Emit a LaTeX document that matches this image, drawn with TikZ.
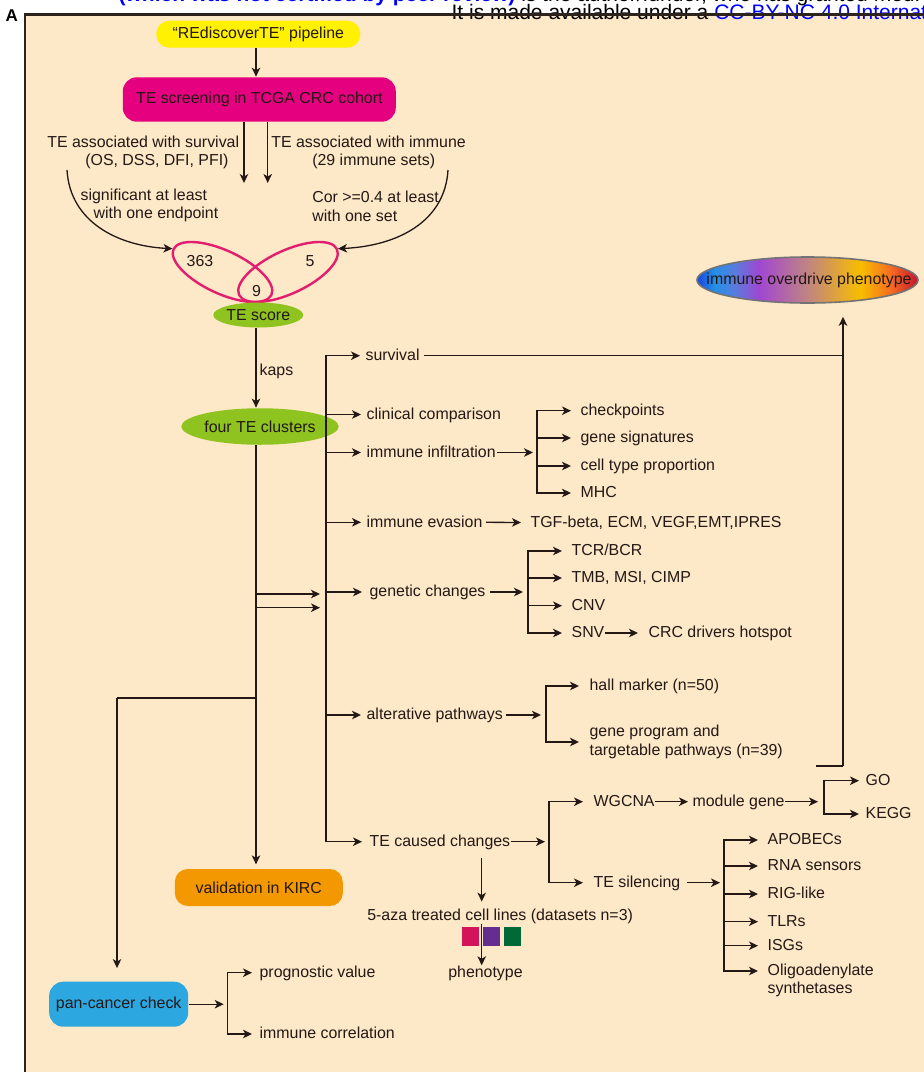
\documentclass[tikz,border=0pt]{standalone}
\usepackage{fontspec}
\setmainfont{Liberation Sans}
\usetikzlibrary{arrows.meta,shapes.geometric}

\definecolor{peach}{RGB}{253,232,200}
\definecolor{ink}{RGB}{35,24,21}
\definecolor{framecol}{RGB}{45,35,30}
\definecolor{pipeyellow}{RGB}{255,241,0}
\definecolor{screenmag}{RGB}{228,0,127}
\definecolor{leaf}{RGB}{143,195,31}
\definecolor{kirc}{RGB}{243,152,0}
\definecolor{pancan}{RGB}{45,167,224}
\definecolor{vennpink}{RGB}{228,30,110}
\definecolor{sqred}{RGB}{212,20,90}
\definecolor{sqpurple}{RGB}{102,45,145}
\definecolor{sqgreen}{RGB}{0,104,55}
\definecolor{hdrblue}{RGB}{0,0,255}
% colours of the phenotype oval, left to right
\definecolor{odA}{RGB}{25,70,225}
\definecolor{odB}{RGB}{35,145,230}
\definecolor{odC}{RGB}{95,120,220}
\definecolor{odD}{RGB}{160,70,210}
\definecolor{odE}{RGB}{192,132,130}
\definecolor{odF}{RGB}{248,190,0}
\definecolor{odG}{RGB}{245,105,35}
\definecolor{odH}{RGB}{195,20,45}
\pgfdeclarehorizontalshading{overdrive}{100bp}{color(0bp)=(odA); color(25bp)=(odA); color(29bp)=(odB); color(34bp)=(odC); color(39bp)=(odD); color(50bp)=(odE); color(62bp)=(odF); color(69bp)=(odG); color(75bp)=(odH); color(100bp)=(odH)}

\begin{document}
\begin{tikzpicture}[x=1pt, y=-1pt, font=\fontsize{15.9}{18.5}\selectfont, color=ink, line width=1.3pt]

	% ---------- Helper styles ----------
	\tikzset{
		box/.style={rounded corners=13pt, inner sep=0pt},
		oval/.style={ellipse, fill=leaf, inner sep=0pt},
		venn/.style={ellipse, draw=vennpink, line width=2.4pt, minimum width=108pt, minimum height=43pt, inner sep=0pt},
		lbl/.style={anchor=west, inner sep=0pt, text height=11.5pt, text depth=2pt},
		lbl2/.style={anchor=west, inner sep=0pt, align=left},
		arr/.style={-{Stealth[length=9pt,width=8.5pt,inset=2.5pt]}},
		spine/.style={line cap=rect},
		heavy/.style={line width=2.6pt},
		sq/.style={minimum width=17pt, minimum height=19pt, inner sep=0pt}
	}

	% ---------- Canvas ----------
	\useasboundingbox (0,0) rectangle (924,1072);
	\clip (0,0) rectangle (924,1072);
	\fill[white] (0,0) rectangle (924,1072);
	\fill[peach] (25,14.5) rectangle (924,1072);

	% ---------- Header (cut off) ----------
	\node[anchor=base west, inner sep=0pt, text=black, font=\fontsize{21}{21}\selectfont] (hdr1) at (118,1)
		{\textcolor{hdrblue}{\bfseries (which was not certified by peer review)} is the author/funder, who has granted medRxiv a license to display the preprint in perpetuity.};
	\node[anchor=base west, inner sep=0pt, text=black, font=\fontsize{21}{21}\selectfont] (hdr2) at (451,19.5)
		{It is made available under a \textcolor{hdrblue}{CC-BY-NC 4.0 International license}.};
	\draw[framecol, line width=2.4pt] (25,1072) -- (25,14.5) -- (924,14.5);
	\node[anchor=base west, inner sep=0pt, text=black, font=\bfseries\fontsize{17}{17}\selectfont] (panA) at (5,21) {A};

	% ---------- Screening ----------
	\coordinate (axis) at (256,0);
	\node[box, fill=pipeyellow, minimum width=204pt, minimum height=27pt] (pipe) at (258.3,34.2) {``REdiscoverTE'' pipeline};
	\node[box, fill=screenmag, minimum width=273pt, minimum height=44.4pt, rounded corners=14pt] (scr) at (259.3,99.5) {TE screening in TCGA CRC cohort};
	\draw[arr] (axis |- pipe.south) -- (axis |- scr.north);

	\coordinate (downL) at (244,183);
	\coordinate (downR) at (267.7,183);
	\draw[arr] (downL |- scr.south) -- (downL);
	\draw[arr] (downR |- scr.south) -- (downR);

	\node[lbl2] (survT) at (46.7,152.5) {TE associated with survival\\\hspace*{38pt}(OS, DSS, DFI, PFI)};
	\node[lbl2] (immT) at (270.7,152.5) {TE associated with immune\\\hspace*{41pt}(29 immune sets)};
	\node[lbl2] (sigT) at (80,205.3) {significant at least\\\hspace*{13pt}with one endpoint};
	\node[lbl2] (corT) at (311.7,206.2) {Cor >=0.4 at least\\with one set};

	% ---------- Venn ----------
	\node[venn, rotate=-25] (setL) at (222.5,272) {};
	\node[venn, rotate=25] (setR) at (288,272) {};
	\node[inner sep=0pt] (cntL) at (200,261) {363};
	\node[inner sep=0pt] (cntR) at (310,261) {5};
	\node[inner sep=0pt] (cntM) at (256.5,290.7) {9};

	\coordinate (survC) at (67,170);
	\coordinate (immC) at (448,170);
	\draw[arr] (survC) .. controls (70,222) and (118,246) .. (setL.west);
	\draw[arr] (immC) .. controls (445,222) and (397,246) .. (setR.east);

	% ---------- Score and clusters ----------
	\node[oval, minimum width=87pt, minimum height=25pt] (score) at (258.3,315) {TE score};
	\node[oval, minimum width=132pt, minimum height=36.5pt] (clu) at (260,426.5) {four TE clusters};
	\draw[arr] (axis |- score.south) -- node[right, inner sep=3pt, pos=0.55] (kaps) {kaps} (axis |- clu.north);

	% phenotype oval, text laid over it
	\node[ellipse, minimum width=221pt, minimum height=46pt, inner sep=0pt, shade, shading=overdrive, draw=black!55, line width=1.6pt] (iop) at (807.5,280) {};
	\node[inner sep=0pt] (iopT) at (809,280) {immune overdrive phenotype};

	% ---------- Main bracket ----------
	\coordinate (brM) at (326,0);
	\foreach \nm/\xx/\yy/\tx in {surv/365/355.7/survival, clin/366/414.5/clinical comparison,
		inf/366/452.5/immune infiltration, eva/366/522.3/immune evasion, gen/369/592/genetic changes,
		alt/366/715/alterative pathways, tec/369/841.7/TE caused changes} {
		\node[lbl] (\nm) at (\xx,\yy) {\tx};
	}
	\draw[spine] (brM |- surv) -- (brM |- tec);
	\foreach \nm/\gap in {surv/5, clin/5, inf/5, eva/5, gen/7, alt/5, tec/7} {
		\draw[arr, shorten >=\gap pt] (brM |- \nm) -- (\nm.west);
	}

	% survival goes on to the phenotype
	\coordinate (odFoot) at (843,766);
	\coordinate (odStub) at (816,766);
	\draw[shorten <=4pt] (surv.east) -- (odFoot |- surv.east);
	\draw[arr, shorten >=13pt] (odFoot) -- (odFoot |- iop.south);
	\draw[heavy] (odStub) -- (odFoot);

	% ---------- Immune infiltration ----------
	\coordinate (brI) at (537,452.5);
	\draw[arr, shorten <=1pt, shorten >=4pt] (inf.east) -- (brI);
	\foreach \nm/\yy/\tx in {chk/410.7/checkpoints, sig/438/gene signatures, ctp/466/cell type proportion, mhc/493/MHC} {
		\node[lbl] (\nm) at (580,\yy) {\tx};
		\draw[arr, shorten >=9pt] (brI |- \nm) -- (\nm.west);
	}
	\draw[spine] (brI |- chk) -- (brI |- mhc);

	% ---------- Immune evasion ----------
	\node[lbl] (tgf) at (530,522.5) {TGF-beta, ECM, VEGF,EMT,IPRES};
	\draw[arr, shorten <=3pt, shorten >=9pt] (eva.east) -- (tgf.west);

	% ---------- Genetic changes ----------
	\coordinate (brG) at (528,592);
	\draw[arr, shorten <=4pt, shorten >=5pt] (gen.east) -- (brG);
	\foreach \nm/\yy/\tx in {tcr/551/{TCR/BCR}, tmb/578/{TMB, MSI, CIMP}, cnv/605.7/CNV, snv/633/SNV} {
		\node[lbl] (\nm) at (571,\yy) {\tx};
		\draw[arr, shorten >=9pt] (brG |- \nm) -- (\nm.west);
	}
	\draw[spine] (brG |- tcr) -- (brG |- snv);
	\node[lbl] (crc) at (648,633) {CRC drivers hotspot};
	\draw[arr, shorten >=10pt] (snv.east) -- (crc.west);

	% ---------- Alterative pathways ----------
	\coordinate (brA) at (546,715);
	\draw[arr, shorten <=3pt, shorten >=5pt] (alt.east) -- (brA);
	\node[lbl] (hall) at (589,686) {hall marker (n=50)};
	\node[lbl2] (prog) at (589,742) {gene program and\\targetable pathways (n=39)};
	\draw[spine] (brA |- hall) -- (brA |- prog);
	\draw[arr, shorten >=10pt] (brA |- hall) -- (hall.west);
	\draw[arr, shorten >=10pt] (brA |- prog) -- (prog.west);

	% ---------- TE caused changes ----------
	\coordinate (brT) at (549,841.7);
	\draw[arr, shorten >=4pt] (tec.east) -- (brT);
	\node[lbl] (wg) at (593,801.7) {WGCNA};
	\node[lbl] (sil) at (593,882.7) {TE silencing};
	\draw[spine] (brT |- wg) -- (brT |- sil);
	\draw[arr, shorten >=10pt] (brT |- wg) -- (wg.west);
	\draw[arr, shorten >=10pt] (brT |- sil) -- (sil.west);

	\node[lbl] (mod) at (692,801.7) {module gene};
	\draw[arr, shorten >=4pt] (wg.east) -- (mod.west);
	\coordinate (brGO) at (824,801.7);
	\draw[arr, shorten >=6pt] (mod.east) -- (brGO);
	\node[lbl] (go) at (865,780.7) {GO};
	\node[lbl] (kegg) at (865,814) {KEGG};
	\draw[spine] (brGO |- go) -- (brGO |- kegg);
	\draw[arr, shorten >=6pt] (brGO |- go) -- (go.west);
	\draw[arr, shorten >=6pt] (brGO |- kegg) -- (kegg.west);

	\coordinate (brS) at (724,882.7);
	\draw[arr, shorten <=6pt, shorten >=4pt] (sil.east) -- (brS);
	\foreach \nm/\yy/\tx in {apo/840/APOBECs, rna/866/RNA sensors, rig/894/RIG-like, tlr/921.7/TLRs, isg/945.7/ISGs} {
		\node[lbl] (\nm) at (767,\yy) {\tx};
		\draw[arr, shorten >=9pt] (brS |- \nm) -- (\nm.west);
	}
	\node[lbl2] (oligo) at (767,980.25) {Oligoadenylate\\synthetases};
	\coordinate (oligoTip) at ([yshift=9.25pt]oligo.west);
	\draw[spine] (brS |- apo) -- (brS |- oligoTip);
	\draw[arr, shorten >=9pt] (brS |- oligoTip) -- (oligoTip);

	% ---------- 5-aza cell lines ----------
	\node[lbl] (aza) at (366.7,916) {5-aza treated cell lines (datasets n=3)};
	\node[sq, fill=sqred] (sq1) at (470.7,936.2) {};
	\node[sq, fill=sqpurple] (sq2) at (491.5,936.2) {};
	\node[sq, fill=sqgreen] (sq3) at (512.5,936.2) {};
	\node[lbl, anchor=center] (phen) at (485.5,972.7) {phenotype};
	\coordinate (azx) at (481.7,0);
	\draw[arr, shorten <=9pt, shorten >=7pt] (azx |- tec.south) -- (azx |- aza.north);
	\draw[arr, shorten <=1pt] (azx |- aza.south) -- (azx |- phen.north);

	% ---------- Trunk: validation and pan-cancer ----------
	\node[box, fill=kirc, minimum width=168pt, minimum height=37pt] (kircbox) at (258.8,887.5) {validation in KIRC};
	\draw[arr, shorten >=4pt] (axis |- clu.south) -- (axis |- kircbox.north);

	\coordinate (fork1) at (256,594);
	\coordinate (fork2) at (256,607.7);
	\draw[arr, shorten >=6pt] (fork1) -- (brM |- fork1);
	\draw[arr, shorten >=6pt] (fork2) -- (brM |- fork2);

	\coordinate (elbow) at (117,698);
	\draw[heavy] (axis |- elbow) -- (elbow);
	\node[box, fill=pancan, minimum width=139pt, minimum height=45pt, rounded corners=14pt] (pan) at (118.7,1004.2) {pan-cancer check};
	\draw[arr, shorten >=13pt] (elbow) -- (elbow |- pan.north);

	\coordinate (brP) at (227.7,1004.2);
	\draw[arr, shorten >=4pt] (pan.east) -- (brP);
	\node[lbl] (prg) at (259,972.7) {prognostic value};
	\node[lbl] (icr) at (259,1034) {immune correlation};
	\draw[spine] (brP |- prg) -- (brP |- icr);
	\draw[arr, shorten >=7pt] (brP |- prg) -- (prg.west);
	\draw[arr, shorten >=7pt] (brP |- icr) -- (icr.west);

\end{tikzpicture}
\end{document}
